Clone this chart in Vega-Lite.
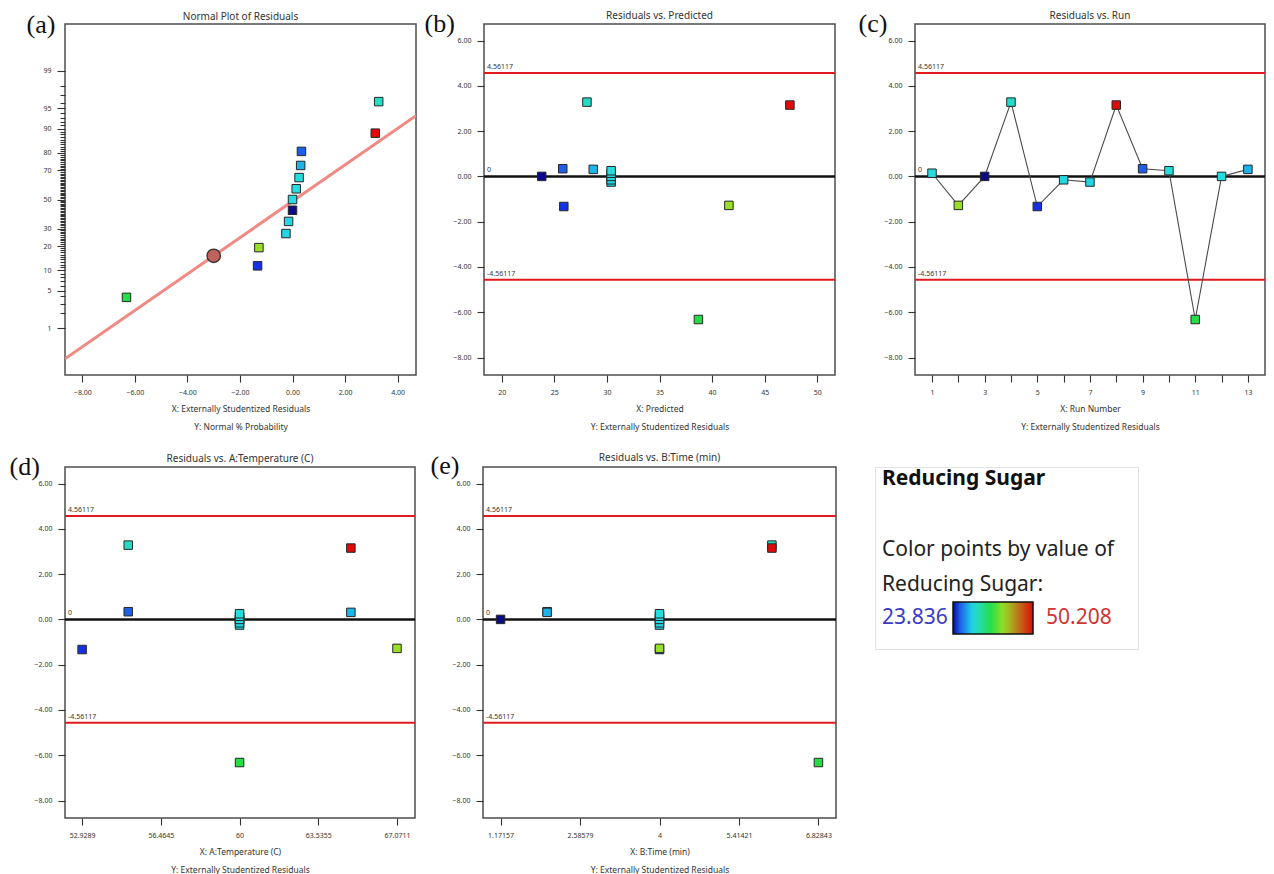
{
  "$schema": "https://vega.github.io/schema/vega-lite/v6.json",
  "background": "white",
  "padding": {"left": 8, "top": 9, "right": 5, "bottom": 5},
  "datasets": {
    "runs": [
      {"run": 1, "predicted": 30.4, "temperature": 60, "time": 4, "residual": 0.14, "sugar": 30.6, "normal_score": 0.194},
      {"run": 2, "predicted": 41.6, "temperature": 67.0711, "time": 4, "residual": -1.28, "sugar": 40.5, "normal_score": -0.869},
      {"run": 3, "predicted": 23.8, "temperature": 60, "time": 1.17157, "residual": 0.0, "sugar": 23.836, "normal_score": -0.194},
      {"run": 4, "predicted": 28.1, "temperature": 55, "time": 6, "residual": 3.28, "sugar": 31.5, "normal_score": 1.768},
      {"run": 5, "predicted": 25.9, "temperature": 52.9289, "time": 4, "residual": -1.33, "sugar": 25.0, "normal_score": -1.198},
      {"run": 6, "predicted": 30.4, "temperature": 60, "time": 4, "residual": -0.15, "sugar": 30.3, "normal_score": -0.396},
      {"run": 7, "predicted": 30.4, "temperature": 60, "time": 4, "residual": -0.25, "sugar": 30.2, "normal_score": -0.615},
      {"run": 8, "predicted": 47.4, "temperature": 65, "time": 6, "residual": 3.15, "sugar": 50.208, "normal_score": 1.198},
      {"run": 9, "predicted": 25.8, "temperature": 55, "time": 2, "residual": 0.34, "sugar": 26.2, "normal_score": 0.869},
      {"run": 10, "predicted": 30.4, "temperature": 60, "time": 4, "residual": 0.25, "sugar": 30.7, "normal_score": 0.396},
      {"run": 11, "predicted": 38.7, "temperature": 60, "time": 6.82843, "residual": -6.32, "sugar": 36.5, "normal_score": -1.768},
      {"run": 12, "predicted": 30.4, "temperature": 60, "time": 4, "residual": 0.0, "sugar": 30.5, "normal_score": 0.0},
      {"run": 13, "predicted": 28.7, "temperature": 65, "time": 2, "residual": 0.31, "sugar": 29.1, "normal_score": 0.615}
    ],
    "refs": [
      {"residual": 4.56117, "label": "4.56117", "kind": "limit"},
      {"residual": -4.56117, "label": "-4.56117", "kind": "limit"},
      {"residual": 0, "label": "0", "kind": "center"}
    ],
    "fit": [
      {"residual": -8.66, "normal_score": -2.877},
      {"residual": 4.70, "normal_score": 1.512}
    ],
    "pivot": [{"residual": -3.0, "normal_score": -1.017}],
    "note": [{"note": ""}]
  },
  "vconcat": [
    {
      "hconcat": [
        {
          "hconcat": [
            {
              "width": 351, "height": 351,
              "title": {"text": "Normal Plot of Residuals"},
              "layer": [
                {
                  "data": {"name": "fit"},
                  "mark": {"type": "line", "color": "#f08a84", "strokeWidth": 3, "clip": true},
                  "encoding": {
                    "x": {"field": "residual", "type": "quantitative", "scale": {"domain": [-8.66, 4.7], "nice": false, "zero": false}},
                    "y": {"field": "normal_score", "type": "quantitative", "scale": {"domain": [-3.17, 3.17], "nice": false, "zero": false}}
                  }
                },
                {
                  "data": {"name": "pivot"},
                  "mark": {"type": "point", "shape": "circle", "filled": true, "size": 180, "color": "#c0625c", "stroke": "#333333", "strokeWidth": 1.3, "opacity": 1},
                  "encoding": {
                    "x": {"field": "residual", "type": "quantitative", "scale": {"domain": [-8.66, 4.7], "nice": false, "zero": false}},
                    "y": {"field": "normal_score", "type": "quantitative", "scale": {"domain": [-3.17, 3.17], "nice": false, "zero": false}}
                  }
                },
                {
                  "data": {"name": "runs"},
                  "mark": {"type": "point", "shape": "square", "filled": true, "size": 72, "strokeWidth": 1, "opacity": 1},
                  "encoding": {
                    "x": {"field": "residual", "type": "quantitative", "scale": {"domain": [-8.66, 4.7], "nice": false, "zero": false},
                      "axis": {"values": [-8, -6, -4, -2, 0, 2, 4], "format": ".2f", "title": ["X: Externally Studentized Residuals", "Y: Normal % Probability"]}},
                    "y": {"field": "normal_score", "type": "quantitative", "scale": {"domain": [-3.17, 3.17], "nice": false, "zero": false},
                      "axis": {
                        "values": [-2.3263,-2.0537,-1.8808,-1.7507,-1.6449,-1.5548,-1.4758,-1.4051,-1.3408,-1.2816,-1.2265,-1.175,-1.1264,-1.0803,-1.0364,-0.9945,-0.9542,-0.9154,-0.8779,-0.8416,-0.8064,-0.7722,-0.7388,-0.7063,-0.6745,-0.6433,-0.6128,-0.5828,-0.5534,-0.5244,-0.4959,-0.4677,-0.4399,-0.4125,-0.3853,-0.3585,-0.3319,-0.3055,-0.2793,-0.2533,-0.2275,-0.2019,-0.1764,-0.151,-0.1257,-0.1004,-0.0753,-0.0502,-0.0251,0,0.0251,0.0502,0.0753,0.1004,0.1257,0.151,0.1764,0.2019,0.2275,0.2533,0.2793,0.3055,0.3319,0.3585,0.3853,0.4125,0.4399,0.4677,0.4959,0.5244,0.5534,0.5828,0.6128,0.6433,0.6745,0.7063,0.7388,0.7722,0.8064,0.8416,0.8779,0.9154,0.9542,0.9945,1.0364,1.0803,1.1264,1.175,1.2265,1.2816,1.3408,1.4051,1.4758,1.5548,1.6449,1.7507,1.8808,2.0537,2.3263],
                        "tickCount": 500,
                        "labelExpr": "indexof([1,5,10,20,30,50,70,80,90,95,99], round(cumulativeNormal(datum.value)*100)) >= 0 ? '' + round(cumulativeNormal(datum.value)*100) : ''",
                        "labelOverlap": false,
                        "tickSize": {"condition": {"test": "indexof([1,5,10,20,30,50,70,80,90,95,99], round(cumulativeNormal(datum.value)*100)) >= 0", "value": 8}, "value": 5},
                        "title": "(a)", "titleX": -39, "titleY": 8
                      }},
                    "order": {"field": "sugar"},
                    "stroke": {"field": "sugar", "type": "quantitative",
                      "scale": {"domain": [23.836, 50.208], "range": ["#262626", "#262626"]},
                      "legend": {
                        "orient": "none", "legendX": 817, "legendY": 578, "direction": "horizontal", "padding": 0,
                        "gradientLength": 1, "gradientThickness": 32, "gradientOpacity": 0, "gradientStrokeWidth": 0,
                        "labelExpr": "''",
                        "title": "23.836", "titleOrient": "left", "titleColor": "#3a3ac6", "titleFontSize": 21, "titleFontWeight": "normal",
                        "titlePadding": 0, "titleAnchor": "middle", "titleBaseline": "middle"
                      }},
                    "color": {"field": "sugar", "type": "quantitative",
                      "scale": {"domain": [23.836, 25.0, 26.2, 29.1, 30.5, 36.5, 40.5, 50.208], "range": ["#0a0a8a", "#1432e0", "#1f5fe8", "#1cb4ec", "#24dde2", "#25dd45", "#98e025", "#e00a0a"], "interpolate": "rgb"},
                      "legend": {
                        "orient": "none", "legendX": 888, "legendY": 578, "direction": "horizontal", "padding": 0,
                        "gradientLength": 80, "gradientThickness": 32, "gradientStrokeColor": "#111111", "gradientStrokeWidth": 1.5,
                        "labelExpr": "''",
                        "title": "50.208", "titleOrient": "right", "titleColor": "#d23434", "titleFontSize": 21, "titleFontWeight": "normal",
                        "titlePadding": 12, "titleAnchor": "middle", "titleBaseline": "middle"
                      }}
                  }
                }
              ]
            },
            {
              "width": 351, "height": 351,
              "title": {"text": "Residuals vs. Predicted"},
              "layer": [
                {
                  "data": {"name": "refs"},
                  "transform": [{"filter": "datum.kind == 'limit'"}],
                  "mark": {"type": "rule", "color": "#e3191e", "strokeWidth": 2},
                  "encoding": {"y": {"field": "residual", "type": "quantitative", "scale": {"domain": [-8.77, 6.73], "nice": false, "zero": false}}}
                },
                {
                  "data": {"name": "refs"},
                  "transform": [{"filter": "datum.kind == 'center'"}],
                  "mark": {"type": "rule", "color": "#111111", "strokeWidth": 2.5},
                  "encoding": {"y": {"field": "residual", "type": "quantitative", "scale": {"domain": [-8.77, 6.73], "nice": false, "zero": false}}}
                },
                {
                  "data": {"name": "refs"},
                  "mark": {"type": "text", "align": "left", "baseline": "alphabetic", "dx": 3, "dy": -4, "fontSize": 7, "color": "#333333"},
                  "encoding": {
                    "x": {"datum": 18.31, "type": "quantitative", "scale": {"domain": [18.31, 51.69], "nice": false, "zero": false}},
                    "y": {"field": "residual", "type": "quantitative", "scale": {"domain": [-8.77, 6.73], "nice": false, "zero": false}},
                    "text": {"field": "label"}
                  }
                },
                {
                  "data": {"name": "runs"},
                  "mark": {"type": "point", "shape": "square", "filled": true, "size": 72, "stroke": "#262626", "strokeWidth": 1, "opacity": 1},
                  "encoding": {
                    "x": {"field": "predicted", "type": "quantitative", "scale": {"domain": [18.31, 51.69], "nice": false, "zero": false},
                      "axis": {"values": [20, 25, 30, 35, 40, 45, 50], "format": "d", "title": ["X: Predicted", "Y: Externally Studentized Residuals"]}},
                    "y": {"field": "residual", "type": "quantitative", "scale": {"domain": [-8.77, 6.73], "nice": false, "zero": false},
                      "axis": {"values": [-8, -6, -4, -2, 0, 2, 4, 6], "format": ".2f", "title": "(b)", "titleX": -60, "titleY": 7}},
                    "order": {"field": "sugar"},
                    "color": {"field": "sugar", "type": "quantitative",
                      "scale": {"domain": [23.836, 25.0, 26.2, 29.1, 30.5, 36.5, 40.5, 50.208], "range": ["#0a0a8a", "#1432e0", "#1f5fe8", "#1cb4ec", "#24dde2", "#25dd45", "#98e025", "#e00a0a"], "interpolate": "rgb"}}
                  }
                }
              ]
            }
          ],
          "spacing": 6,
          "bounds": "full"
        },
        {
          "width": 350, "height": 351,
          "title": {"text": "Residuals vs. Run"},
          "layer": [
            {
              "data": {"name": "refs"},
              "transform": [{"filter": "datum.kind == 'limit'"}],
              "mark": {"type": "rule", "color": "#e3191e", "strokeWidth": 2},
              "encoding": {"y": {"field": "residual", "type": "quantitative", "scale": {"domain": [-8.77, 6.73], "nice": false, "zero": false}}}
            },
            {
              "data": {"name": "refs"},
              "transform": [{"filter": "datum.kind == 'center'"}],
              "mark": {"type": "rule", "color": "#111111", "strokeWidth": 2.5},
              "encoding": {"y": {"field": "residual", "type": "quantitative", "scale": {"domain": [-8.77, 6.73], "nice": false, "zero": false}}}
            },
            {
              "data": {"name": "refs"},
              "mark": {"type": "text", "align": "left", "baseline": "alphabetic", "dx": 3, "dy": -4, "fontSize": 7, "color": "#333333"},
              "encoding": {
                "x": {"datum": 0.354, "type": "quantitative", "scale": {"domain": [0.354, 13.65], "nice": false, "zero": false}},
                "y": {"field": "residual", "type": "quantitative", "scale": {"domain": [-8.77, 6.73], "nice": false, "zero": false}},
                "text": {"field": "label"}
              }
            },
            {
              "data": {"name": "runs"},
              "mark": {"type": "line", "color": "#4a4a4a", "strokeWidth": 1.1},
              "encoding": {
                "x": {"field": "run", "type": "quantitative", "scale": {"domain": [0.354, 13.65], "nice": false, "zero": false}},
                "y": {"field": "residual", "type": "quantitative", "scale": {"domain": [-8.77, 6.73], "nice": false, "zero": false}},
                "order": {"field": "run"}
              }
            },
            {
              "data": {"name": "runs"},
              "mark": {"type": "point", "shape": "square", "filled": true, "size": 72, "stroke": "#262626", "strokeWidth": 1, "opacity": 1},
              "encoding": {
                "x": {"field": "run", "type": "quantitative", "scale": {"domain": [0.354, 13.65], "nice": false, "zero": false},
                  "axis": {"values": [1, 2, 3, 4, 5, 6, 7, 8, 9, 10, 11, 12, 13], "tickCount": 50, "labelExpr": "datum.value % 2 == 1 ? '' + datum.value : ''", "title": ["X: Run Number", "Y: Externally Studentized Residuals"]}},
                "y": {"field": "residual", "type": "quantitative", "scale": {"domain": [-8.77, 6.73], "nice": false, "zero": false},
                  "axis": {"values": [-8, -6, -4, -2, 0, 2, 4, 6], "format": ".2f", "title": "(c)", "titleX": -57, "titleY": 7}},
                "color": {"field": "sugar", "type": "quantitative",
                  "scale": {"domain": [23.836, 25.0, 26.2, 29.1, 30.5, 36.5, 40.5, 50.208], "range": ["#0a0a8a", "#1432e0", "#1f5fe8", "#1cb4ec", "#24dde2", "#25dd45", "#98e025", "#e00a0a"], "interpolate": "rgb"}}
              }
            }
          ]
        }
      ],
      "spacing": 20,
      "bounds": "full"
    },
    {
      "hconcat": [
        {
          "hconcat": [
            {
              "width": 350, "height": 351,
              "title": {"text": "Residuals vs. A:Temperature (C)"},
              "layer": [
                {
                  "data": {"name": "refs"},
                  "transform": [{"filter": "datum.kind == 'limit'"}],
                  "mark": {"type": "rule", "color": "#e3191e", "strokeWidth": 2},
                  "encoding": {"y": {"field": "residual", "type": "quantitative", "scale": {"domain": [-8.77, 6.73], "nice": false, "zero": false}}}
                },
                {
                  "data": {"name": "refs"},
                  "transform": [{"filter": "datum.kind == 'center'"}],
                  "mark": {"type": "rule", "color": "#111111", "strokeWidth": 2.5},
                  "encoding": {"y": {"field": "residual", "type": "quantitative", "scale": {"domain": [-8.77, 6.73], "nice": false, "zero": false}}}
                },
                {
                  "data": {"name": "refs"},
                  "mark": {"type": "text", "align": "left", "baseline": "alphabetic", "dx": 3, "dy": -4, "fontSize": 7, "color": "#333333"},
                  "encoding": {
                    "x": {"datum": 52.16, "type": "quantitative", "scale": {"domain": [52.16, 67.88], "nice": false, "zero": false}},
                    "y": {"field": "residual", "type": "quantitative", "scale": {"domain": [-8.77, 6.73], "nice": false, "zero": false}},
                    "text": {"field": "label"}
                  }
                },
                {
                  "data": {"name": "runs"},
                  "mark": {"type": "point", "shape": "square", "filled": true, "size": 72, "stroke": "#262626", "strokeWidth": 1, "opacity": 1},
                  "encoding": {
                    "x": {"field": "temperature", "type": "quantitative", "scale": {"domain": [52.16, 67.88], "nice": false, "zero": false},
                      "axis": {"values": [52.9289, 56.4645, 60, 63.5355, 67.0711], "labelExpr": "datum.value == 60 ? '60' : format(datum.value, '.4f')", "title": ["X: A:Temperature (C)", "Y: Externally Studentized Residuals"]}},
                    "y": {"field": "residual", "type": "quantitative", "scale": {"domain": [-8.77, 6.73], "nice": false, "zero": false},
                      "axis": {"values": [-8, -6, -4, -2, 0, 2, 4, 6], "format": ".2f", "title": "(d)", "titleX": -56, "titleY": 7}},
                    "order": {"field": "sugar"},
                    "color": {"field": "sugar", "type": "quantitative",
                      "scale": {"domain": [23.836, 25.0, 26.2, 29.1, 30.5, 36.5, 40.5, 50.208], "range": ["#0a0a8a", "#1432e0", "#1f5fe8", "#1cb4ec", "#24dde2", "#25dd45", "#98e025", "#e00a0a"], "interpolate": "rgb"}}
                  }
                }
              ]
            },
            {
              "width": 353, "height": 351,
              "title": {"text": "Residuals vs. B:Time (min)"},
              "layer": [
                {
                  "data": {"name": "refs"},
                  "transform": [{"filter": "datum.kind == 'limit'"}],
                  "mark": {"type": "rule", "color": "#e3191e", "strokeWidth": 2},
                  "encoding": {"y": {"field": "residual", "type": "quantitative", "scale": {"domain": [-8.77, 6.73], "nice": false, "zero": false}}}
                },
                {
                  "data": {"name": "refs"},
                  "transform": [{"filter": "datum.kind == 'center'"}],
                  "mark": {"type": "rule", "color": "#111111", "strokeWidth": 2.5},
                  "encoding": {"y": {"field": "residual", "type": "quantitative", "scale": {"domain": [-8.77, 6.73], "nice": false, "zero": false}}}
                },
                {
                  "data": {"name": "refs"},
                  "mark": {"type": "text", "align": "left", "baseline": "alphabetic", "dx": 3, "dy": -4, "fontSize": 7, "color": "#333333"},
                  "encoding": {
                    "x": {"datum": 0.859, "type": "quantitative", "scale": {"domain": [0.859, 7.141], "nice": false, "zero": false}},
                    "y": {"field": "residual", "type": "quantitative", "scale": {"domain": [-8.77, 6.73], "nice": false, "zero": false}},
                    "text": {"field": "label"}
                  }
                },
                {
                  "data": {"name": "runs"},
                  "mark": {"type": "point", "shape": "square", "filled": true, "size": 72, "stroke": "#262626", "strokeWidth": 1, "opacity": 1},
                  "encoding": {
                    "x": {"field": "time", "type": "quantitative", "scale": {"domain": [0.859, 7.141], "nice": false, "zero": false},
                      "axis": {"values": [1.17157, 2.58579, 4, 5.41421, 6.82843], "labelExpr": "datum.value == 4 ? '4' : format(datum.value, '.5f')", "title": ["X: B:Time (min)", "Y: Externally Studentized Residuals"]}},
                    "y": {"field": "residual", "type": "quantitative", "scale": {"domain": [-8.77, 6.73], "nice": false, "zero": false},
                      "axis": {"values": [-8, -6, -4, -2, 0, 2, 4, 6], "format": ".2f", "title": "(e)", "titleX": -53, "titleY": 6}},
                    "order": {"field": "sugar"},
                    "color": {"field": "sugar", "type": "quantitative",
                      "scale": {"domain": [23.836, 25.0, 26.2, 29.1, 30.5, 36.5, 40.5, 50.208], "range": ["#0a0a8a", "#1432e0", "#1f5fe8", "#1cb4ec", "#24dde2", "#25dd45", "#98e025", "#e00a0a"], "interpolate": "rgb"}}
                  }
                }
              ]
            }
          ],
          "spacing": 12,
          "bounds": "full"
        },
        {
          "width": 263, "height": 182,
          "view": {"stroke": "#e2e2e2", "strokeWidth": 1},
          "title": {
            "text": "Reducing Sugar",
            "subtitle": ["", "Color points by value of", "Reducing Sugar:"],
            "anchor": "start", "frame": "group", "orient": "top",
            "fontSize": 21, "fontWeight": "bold", "color": "#111111",
            "subtitleFontSize": 21, "subtitleColor": "#222222", "subtitleFontWeight": "normal",
            "subtitleLineHeight": 35, "subtitlePadding": 15,
            "offset": -128, "dx": 7
          },
          "data": {"name": "note"},
          "mark": {"type": "text"},
          "encoding": {"text": {"field": "note"}}
        }
      ],
      "spacing": 36,
      "bounds": "full"
    }
  ],
  "spacing": 19,
  "bounds": "full",
  "config": {
    "font": "Noto Sans",
    "view": {"stroke": "#4d4d4d", "strokeWidth": 1.5, "fill": "white"},
    "axis": {
      "domain": false, "grid": false, "tickColor": "#333333", "tickSize": 7, "tickWidth": 1.1,
      "labelFontSize": 7, "labelColor": "#333333", "labelPadding": 6, "labelOverlap": false, "labelFlush": false,
      "titleFontSize": 8.5, "titleFontWeight": "normal", "titleColor": "#333333", "titleLineHeight": 18, "titlePadding": 9
    },
    "axisY": {
      "titleAngle": 0, "titleAlign": "left", "titleBaseline": "alphabetic",
      "titleFont": "Liberation Serif", "titleFontSize": 26, "titleColor": "#111111"
    },
    "title": {"fontSize": 10, "fontWeight": "normal", "color": "#333333", "offset": -11, "frame": "group"}
  }
}
